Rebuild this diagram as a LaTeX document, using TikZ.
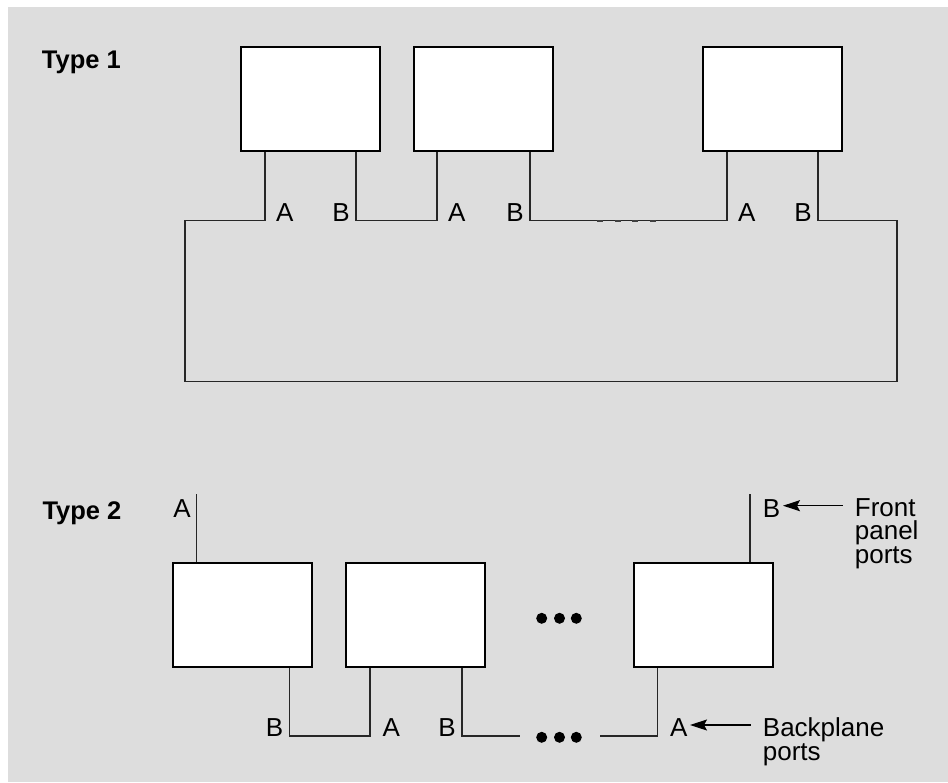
\documentclass[tikz,border=0pt]{standalone}
\usepackage{fontspec}
\setmainfont{Liberation Sans}
\usetikzlibrary{arrows.meta}
\definecolor{panelgrey}{RGB}{221,221,221}
% stacked lines whose baseline is the first line's
\newcommand{\stacklines}[1]{\vtop{\lineskiplimit=-30pt\relax #1}}
\begin{document}
\begin{tikzpicture}[x=1pt,y=-1pt,
  unit/.style={draw=black, line width=2pt, fill=white, minimum width=139pt, minimum height=104pt, inner sep=0pt},
  wire/.style={line width=1.2pt, black!85},
  port/.style={font=\fontsize{26}{26}\selectfont, inner sep=0pt},
  title/.style={font=\fontsize{25.5}{26}\selectfont\bfseries, inner sep=0pt, anchor=base west},
  callout/.style={font=\fontsize{26}{23.6}\selectfont, inner sep=0pt, anchor=base west},
  pointer/.style={line width=1.2pt, -{Stealth[length=17pt,width=11pt,inset=3pt]}},
  dot/.style={circle, fill=black, inner sep=0pt, minimum size=11pt},
]
\useasboundingbox (0,0) rectangle (948,782);
\fill[panelgrey] (8,7) rectangle (948,782);

% ---------- Type 1: ring ----------
\node[title] (t1) at (41.7,68) {Type 1};

\coordinate (u1A) at (265,220.7);
\coordinate (u1B) at (356,220.7);
\coordinate (u2A) at (437,220.7);
\coordinate (u2B) at (530,220.7);
\coordinate (u3A) at (727,220.7);
\coordinate (u3B) at (818,220.7);
\coordinate (lpTL) at (185,220.7);
\coordinate (lpBL) at (185,381.5);
\coordinate (lpBR) at (897,381.5);
\coordinate (lpTR) at (897,220.7);

\node[unit] (u1) at (310.8,99.3) {};
\node[unit] (u2) at (483.5,99.3) {};
\node[unit] (u3) at (772.5,99.3) {};

\draw[wire] (u1.south -| u1A) -- (u1A) -- (lpTL) -- (lpBL) -- (lpBR) -- (lpTR) -- (u3B) -- (u3.south -| u3B);
\draw[wire] (u1.south -| u1B) -- (u1B) -- (u2A) -- (u2.south -| u2A);
\draw[wire] (u2.south -| u2B) -- (u2B) -- (u3A) -- (u3.south -| u3A);

% faint ellipsis marks on the long link
\foreach \x in {597,615,632,650}
  \draw[line width=2pt, black!75] (\x,220.9) -- ++(5.5,0);

\node[port, anchor=base west] (lu1A) at (276,221) {A};
\node[port, anchor=base east] (lu1B) at (350,221) {B};
\node[port, anchor=base west] (lu2A) at (448,221) {A};
\node[port, anchor=base east] (lu2B) at (524,221) {B};
\node[port, anchor=base west] (lu3A) at (738,221) {A};
\node[port, anchor=base east] (lu3B) at (812,221) {B};

% ---------- Type 2: chain ----------
\node[title] (t2) at (42.3,519.3) {Type 2};

\node[unit] (v1) at (242.9,614.8) {};
\node[unit] (v2) at (415.9,614.8) {};
\node[unit] (v3) at (703.5,614.8) {};

\node[dot] (m1) at (541.7,618.3) {};
\node[dot] (m2) at (559.5,618.3) {};
\node[dot] (m3) at (576.3,618.3) {};

% front panel ports
\coordinate (v1A) at (196.7,494);
\coordinate (v3B) at (750,494);
\draw[wire] (v1.north -| v1A) -- (v1A);
\draw[wire] (v3.north -| v3B) -- (v3B);
\node[port, anchor=base east] (lv1A) at (191,517) {A};
\node[port, anchor=base west] (lv3B) at (762.7,517) {B};

\node[callout] (front) at (854.7,516) {\stacklines{\hbox{Front}\hbox{panel}\hbox{ports}}};
\coordinate (fptail) at (842.7,505.7);
\coordinate (fptip) at (783,505.7);
\draw[pointer] (fptail) -- (fptip);

% backplane ports
\coordinate (v1B) at (289.3,736);
\coordinate (v2A) at (370,736);
\coordinate (v2B) at (462,736);
\coordinate (gapL) at (520,736);
\coordinate (gapR) at (600,736);
\coordinate (v3A) at (657.7,736);

\draw[wire] (v1.south -| v1B) -- (v1B) -- (v2A) -- (v2.south -| v2A);
\draw[wire] (v2.south -| v2B) -- (v2B) -- (gapL);
\draw[wire] (gapR) -- (v3A) -- (v3.south -| v3A);

\node[dot] (b1) at (541.7,737.3) {};
\node[dot] (b2) at (559.5,737.3) {};
\node[dot] (b3) at (576.3,737.3) {};

\node[port, anchor=base east] (lv1B) at (283.3,736) {B};
\node[port, anchor=base west] (lv2A) at (382.3,736) {A};
\node[port, anchor=base east] (lv2B) at (456,736) {B};
\node[port, anchor=base west] (lv3A) at (670,736) {A};

\node[callout, font=\fontsize{26}{24.3}\selectfont] (back) at (762.7,736) {\stacklines{\hbox{Backplane}\hbox{ports}}};
\coordinate (bptail) at (750.7,725);
\coordinate (bptip) at (690,725);
\draw[pointer] (bptail) -- (bptip);
\end{tikzpicture}
\end{document}
